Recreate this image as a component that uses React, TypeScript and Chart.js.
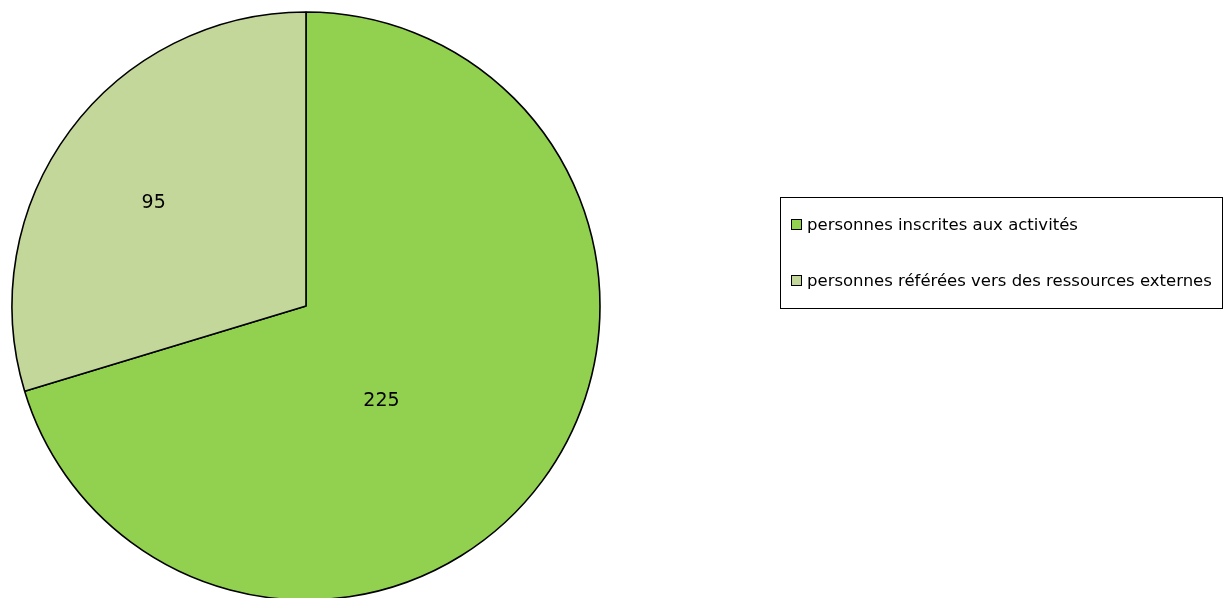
import React, { useEffect, useRef } from "react";
import { Chart, registerables } from "chart.js";

Chart.register(...registerables);

const categories = [
  "personnes inscrites aux activités",
  "personnes référées vers des ressources externes",
];
const values = [225, 95];
const sliceColors = ["#92D050", "#C4D79B"];
// label placement inside each slice: fraction along the arc, fraction of radius
const labelAngleFrac = [0.558, 0.48];
const labelRadiusFrac = [0.41, 0.628];

const FONT = "'DejaVu Sans', sans-serif";

const pieLabelsPlugin = {
  id: "pieLabels",
  afterDatasetsDraw(chart: any) {
    const ctx = chart.ctx;
    const meta = chart.getDatasetMeta(0);
    ctx.save();
    ctx.fillStyle = "#000";
    ctx.font = `19px ${FONT}`;
    ctx.textAlign = "center";
    ctx.textBaseline = "middle";
    meta.data.forEach((arc: any, i: number) => {
      const { x, y, startAngle, endAngle, outerRadius } = arc.getProps(
        ["x", "y", "startAngle", "endAngle", "outerRadius"],
        true
      );
      const a = startAngle + (endAngle - startAngle) * labelAngleFrac[i];
      const r = outerRadius * labelRadiusFrac[i];
      ctx.fillText(String(values[i]), x + Math.cos(a) * r, y + Math.sin(a) * r + 1);
    });
    ctx.restore();
  },
};

const boxLegendPlugin = {
  id: "boxLegend",
  afterDraw(chart: any) {
    const ctx = chart.ctx;
    const left = 780.5;
    const top = 197.5;
    const w = 442;
    const h = 111;
    ctx.save();
    ctx.strokeStyle = "#000";
    ctx.lineWidth = 1;
    ctx.strokeRect(left, top, w, h);
    const rowY = [225, 281];
    ctx.font = `16.5px ${FONT}`;
    ctx.textBaseline = "middle";
    ctx.textAlign = "left";
    chart.data.labels.forEach((lab: string, i: number) => {
      const cy = rowY[i];
      ctx.fillStyle = chart.data.datasets[0].backgroundColor[i];
      ctx.fillRect(791.5, cy - 5.5, 10, 10);
      ctx.strokeRect(791.5, cy - 5.5, 10, 10);
      ctx.fillStyle = "#000";
      ctx.fillText(lab, 807, cy + 1);
    });
    ctx.restore();
  },
};

export default function App() {
  const ref = useRef<HTMLCanvasElement | null>(null);
  useEffect(() => {
    if (!ref.current) return;
    const chart = new Chart(ref.current, {
      type: "pie",
      data: {
        labels: categories,
        datasets: [
          {
            data: values,
            backgroundColor: sliceColors,
            borderColor: "#000",
            borderWidth: 1.6,
            radius: 294,
          } as any,
        ],
      },
      options: {
        animation: false,
        responsive: false,
        rotation: 0,
        layout: { padding: { left: 0, right: 613, top: 0, bottom: 0 } },
        plugins: {
          legend: { display: false },
          tooltip: { enabled: false },
          title: { display: false },
        },
      },
      plugins: [pieLabelsPlugin, boxLegendPlugin],
    });
    return () => chart.destroy();
  }, []);
  return (
    <div
      style={{
        position: "absolute",
        top: 0,
        left: 0,
        width: 1225,
        height: 598,
        overflow: "hidden",
        background: "#fff",
      }}
    >
      <canvas ref={ref} width={1225} height={612} style={{ display: "block" }} />
    </div>
  );
}
